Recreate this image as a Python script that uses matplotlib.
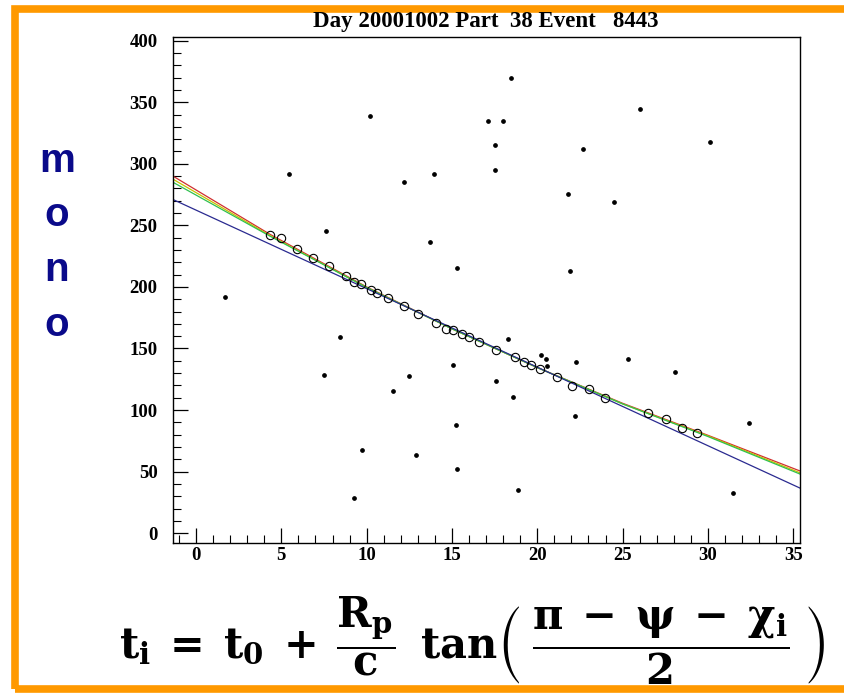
import matplotlib
matplotlib.use("Agg")
import matplotlib.pyplot as plt
from matplotlib.patches import Rectangle
from matplotlib.ticker import MultipleLocator
import numpy as np

# ---- data ----
hit_x = [4.34, 4.98, 5.92, 6.86, 7.80, 8.79, 9.26, 9.67, 10.26, 10.61, 11.25, 12.19,
         13.01, 14.07, 14.65, 15.06, 15.59, 16.00, 16.59, 17.58, 18.70, 19.23, 19.64,
         20.16, 21.16, 22.04, 23.04, 23.97, 26.49, 27.55, 28.49, 29.37]
hit_t = [242.3, 239.8, 230.9, 223.6, 217.1, 208.9, 204.1, 202.4, 197.6, 195.1, 191.1, 184.6,
         178.0, 170.7, 165.9, 165.0, 161.8, 159.3, 155.3, 148.8, 143.1, 139.0, 136.6,
         133.3, 126.8, 119.5, 117.1, 109.8, 97.6, 92.7, 85.4, 81.3]

noise_x = [1.7, 5.45, 7.6, 8.44, 7.5, 10.2, 9.73, 9.26, 12.2, 12.5, 11.55, 12.9, 13.95,
           13.7, 15.3, 15.06, 15.24, 15.3, 17.1, 17.5, 18.0, 18.46, 17.5, 17.6, 18.3,
           18.6, 18.9, 20.2, 20.5, 20.6, 21.8, 21.9, 22.3, 22.2, 22.7, 24.5, 25.3, 26.0,
           28.1, 30.1, 32.4, 31.5]
noise_t = [191.9, 291.9, 245.5, 159.3, 128.5, 339.0, 67.5, 28.5, 285.0, 127.6, 115.4, 63.4,
           291.9, 236.6, 215.0, 136.6, 87.8, 52.0, 335.0, 315.0, 335.0, 370.0, 295.0, 123.6,
           157.7, 110.6, 35.0, 144.7, 141.5, 135.8, 275.6, 213.0, 139.0, 95.0, 312.0, 269.0,
           141.5, 344.7, 130.9, 318.0, 89.4, 32.5]

fit_x = [-1.35, 4.3, 10, 15, 20, 25, 30, 35.4]
fit_red = [290.0, 243.0, 200.0, 166.0, 134.5, 105.5, 79.5, 50.5]
fit_yellow = [287.5, 242.0, 199.5, 166.0, 134.5, 105.0, 79.0, 49.0]
fit_green = [285.0, 241.5, 199.5, 166.0, 134.5, 105.0, 78.5, 48.0]
fit_blue_x = [-1.35, 35.4]
fit_blue = [271.0, 36.6]

title = "Day 20001002 Part  38 Event   8443"
side_letters = ["m", "o", "n", "o"]

# ---- figure ----
W, H = 844, 696
fig = plt.figure(figsize=(W / 100, H / 100), dpi=100)
fig.patch.set_facecolor("white")

# orange frame
fig.patches.append(Rectangle((15.5 / W, 1 - 689 / H), (860 - 15.5) / W, (689 - 8.5) / H,
                             transform=fig.transFigure, fill=False,
                             edgecolor="#FF9900", linewidth=5.5, zorder=0))

ax = fig.add_axes([173 / W, 1 - 543 / H, (800 - 173) / W, (543 - 37) / H])
ax.set_xlim(-1.35, 35.4)
ax.set_ylim(-8, 403)

ax.plot(fit_x, fit_red, color="#d03030", lw=0.9, zorder=2)
ax.plot(fit_x, fit_yellow, color="#c8c000", lw=0.9, zorder=2)
ax.plot(fit_x, fit_green, color="#30c050", lw=0.9, zorder=2)
ax.plot(fit_blue_x, fit_blue, color="#2a2a90", lw=0.9, zorder=2)

ax.plot(hit_x, hit_t, linestyle="none", marker="o", markersize=6,
        markerfacecolor="none", markeredgecolor="black", markeredgewidth=0.8, zorder=3)
ax.plot(noise_x, noise_t, linestyle="none", marker="o", markersize=2.4,
        color="black", zorder=3)

ax.xaxis.set_major_locator(MultipleLocator(5))
ax.xaxis.set_minor_locator(MultipleLocator(1))
ax.yaxis.set_major_locator(MultipleLocator(50))
ax.yaxis.set_minor_locator(MultipleLocator(10))
ax.tick_params(which="both", direction="in", top=False, right=False, color="black")
ax.tick_params(which="major", length=11, width=0.9)
ax.tick_params(which="minor", length=5.5, width=0.8)
ax.tick_params(axis="x", pad=3)
ax.tick_params(axis="y", pad=11)
for lab in ax.get_xticklabels() + ax.get_yticklabels():
    lab.set_fontfamily("Liberation Serif")
    lab.set_fontweight("bold")
    lab.set_fontsize(13.5)
for sp in ax.spines.values():
    sp.set_linewidth(1.0)

fig.text(486 / W, 1 - 21 / H, title, ha="center", va="center",
         fontfamily="Liberation Serif", fontweight="bold", fontsize=16.5)

for i, ch in enumerate(side_letters):
    fig.text(57 / W, 1 - (161 + i * 54.5) / H, ch, ha="center", va="center",
             fontfamily="Liberation Sans", fontweight="bold", fontsize=29,
             color="#0a0a8a")

plt.rcParams["mathtext.fontset"] = "dejavuserif"
formula = (r"$\mathbf{t_i\;=\;t_0\;+\;\dfrac{R_p}{c}\;\;tan\left(\;\dfrac{\pi\;-\;\psi\;-\;\chi_i}{2}\;\right)}$")
fig.text(472 / W, 1 - 641 / H, formula, ha="center", va="center", fontsize=30,
         color="black")

fig.savefig("out.png", dpi=100, facecolor="white")
